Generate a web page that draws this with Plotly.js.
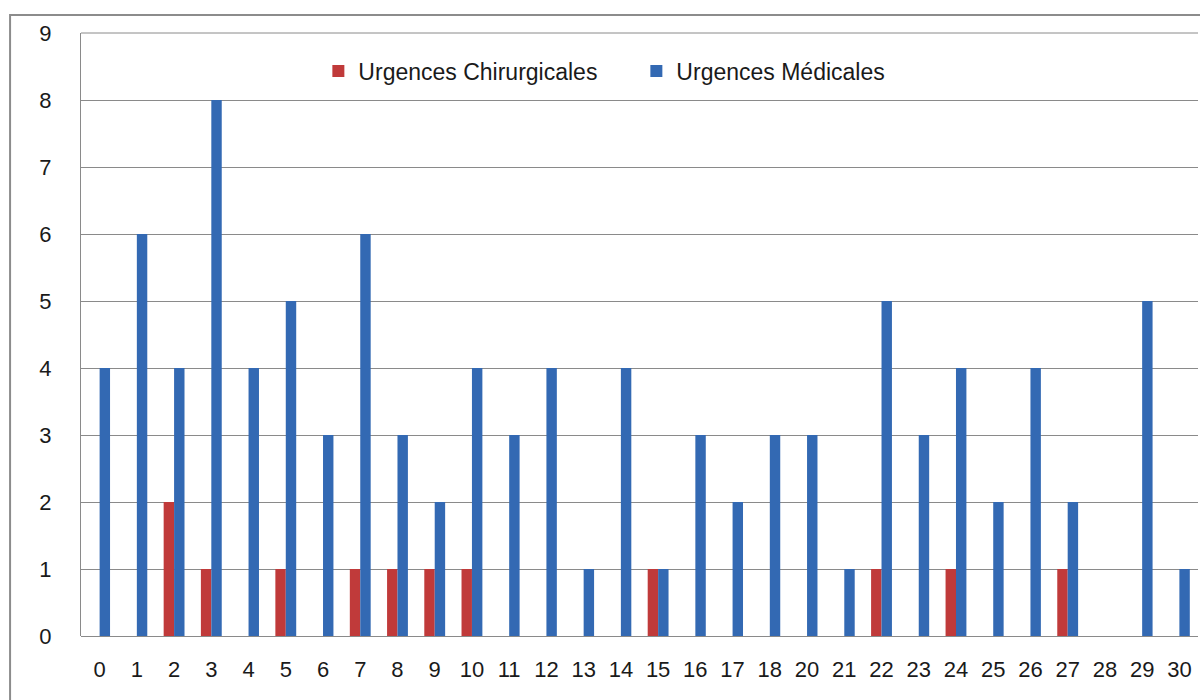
<!DOCTYPE html>
<html>
<head>
<meta charset="utf-8">
<script src="https://cdn.plot.ly/plotly-3.0.1.min.js"></script>
<style>html,body{margin:0;padding:0;background:#fff;}#chart{width:1200px;height:700px;}</style>
</head>
<body>
<div id="chart"></div>
<script>
const categories = ["0","1","2","3","4","5","6","7","8","9","10","11","12","13","14","15","16","17","18","20","21","22","23","24","25","26","27","28","29","30"];
const chirurgicales = [0,0,2,1,0,1,0,1,1,1,1,0,0,0,0,1,0,0,0,0,0,1,0,1,0,0,1,0,0,0];
const medicales = [4,6,4,8,4,5,3,6,3,2,4,3,4,1,4,1,3,2,3,3,1,5,3,4,2,4,2,0,5,1];
const seriesNames = ["Urgences Chirurgicales","Urgences Médicales"];

const font = "Liberation Sans, Arial, sans-serif";
const traces = [
  {type:"bar", x:categories, y:chirurgicales, name:seriesNames[0],
   marker:{color:"#c03a3a"}, hoverinfo:"x+y+name"},
  {type:"bar", x:categories, y:medicales, name:seriesNames[1],
   marker:{color:"#3369b3"}, hoverinfo:"x+y+name"}
];
const layout = {
  width:1200, height:700,
  margin:{l:81, r:2, t:33, b:64},
  paper_bgcolor:"#fff", plot_bgcolor:"#fff",
  barmode:"group", bargap:0.44, bargroupgap:0,
  font:{family:font, size:22, color:"#1a1a1a"},
  showlegend:true,
  legend:{orientation:"h", x:0.2125, y:0.937, xanchor:"left", yanchor:"middle",
          bgcolor:"rgba(0,0,0,0)", font:{size:23, color:"#1a1a1a"}, itemwidth:30, entrywidth:273},
  xaxis:{type:"category", showgrid:false, zeroline:false, showline:false, ticks:"",
         tickfont:{size:22, color:"#1a1a1a"}, ticklabelstandoff:18, fixedrange:true},
  yaxis:{range:[0,9], dtick:1, showgrid:true, gridcolor:"#8a8a8a", gridwidth:1,
         zeroline:true, zerolinecolor:"#8a8a8a", zerolinewidth:1,
         showline:true, linecolor:"#8a8a8a", linewidth:1, ticks:"",
         tickfont:{size:22, color:"#1a1a1a"}, ticklabelstandoff:24, fixedrange:true},
  shapes:[
    {type:"rect", xref:"paper", yref:"paper", x0:-0.0635, x1:1.2, y0:-0.3, y1:1.03,
     line:{color:"#8c8c8c", width:2}, fillcolor:"rgba(0,0,0,0)", layer:"below"},
    {type:"line", xref:"paper", yref:"paper", x0:0, x1:1, y0:1, y1:1,
     line:{color:"#8a8a8a", width:1}}
  ]
};
Plotly.newPlot("chart", traces, layout, {displayModeBar:false, staticPlot:true});
</script>
</body>
</html>
